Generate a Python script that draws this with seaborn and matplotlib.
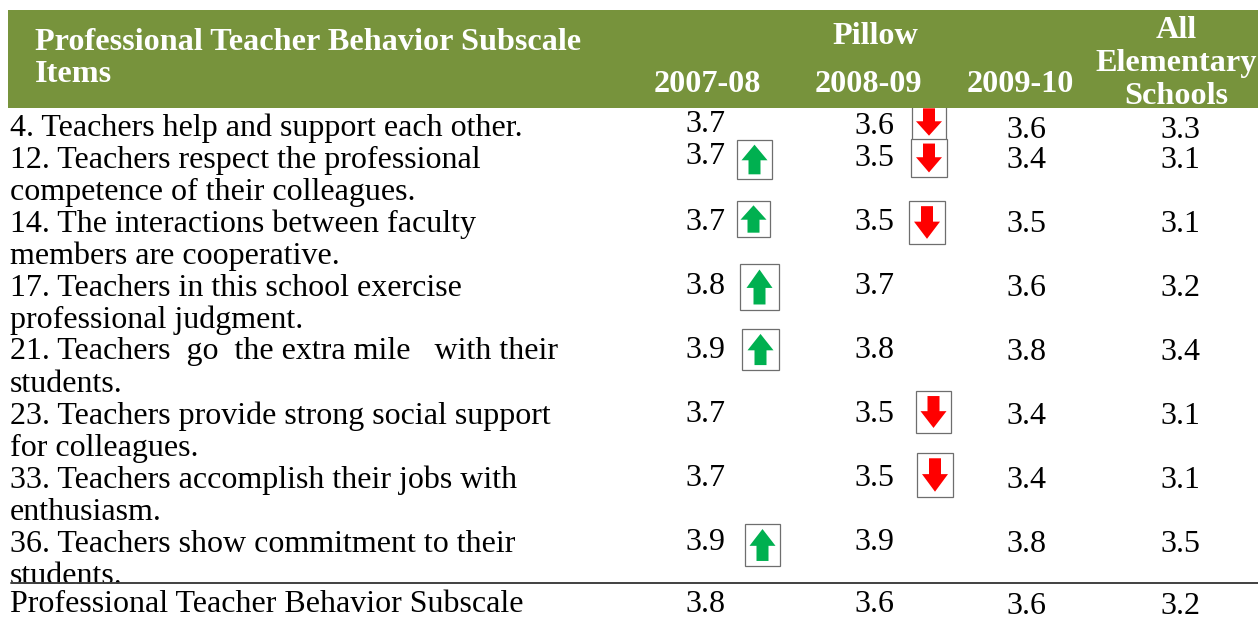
import matplotlib.pyplot as plt
import seaborn as sns
from matplotlib.patches import Rectangle

# table content
header_title = ["Professional Teacher Behavior Subscale", "Items"]
years = ["2007-08", "2008-09", "2009-10"]
all_schools = ["All", "Elementary", "Schools"]

items = [
    ["4. Teachers help and support each other."],
    ["12. Teachers respect the professional", "competence of their colleagues."],
    ["14. The interactions between faculty", "members are cooperative."],
    ["17. Teachers in this school exercise", "professional judgment."],
    ["21. Teachers  go  the extra mile   with their", "students."],
    ["23. Teachers provide strong social support", "for colleagues."],
    ["33. Teachers accomplish their jobs with", "enthusiasm."],
    ["36. Teachers show commitment to their", "students."],
    ["Professional Teacher Behavior Subscale"],
]

pillow_0708 = ["3.7", "3.7", "3.7", "3.8", "3.9", "3.7", "3.7", "3.9", "3.8"]
pillow_0809 = ["3.6", "3.5", "3.5", "3.7", "3.8", "3.5", "3.5", "3.9", "3.6"]
pillow_0910 = ["3.6", "3.4", "3.5", "3.6", "3.8", "3.4", "3.4", "3.8", "3.6"]
all_elementary = ["3.3", "3.1", "3.1", "3.2", "3.4", "3.1", "3.1", "3.5", "3.2"]
columns = [pillow_0708, pillow_0809, pillow_0910, all_elementary]

# layout, in pixels of the picture
col_x = [705, 874, 1026, 1180]
row_y = [
    [125, 157, 222, 286, 350, 414, 478, 542, 605],
    [127, 159, 223, 287, 350, 414, 478, 542, 605],
    [130, 161, 225, 289, 353, 417, 481, 545, 606],
    [130, 161, 225, 289, 353, 417, 481, 545, 606],
]
line_y = [128, 160, 192, 224, 256, 288, 320, 352, 384, 416, 448, 480, 512, 544, 576, 605]

# arrow boxes: left, top, right, bottom, direction
arrow_boxes = [
    (737, 140, 772, 179, "up"),
    (912, 104, 946, 140, "down"),
    (911, 139, 947, 177, "down"),
    (737, 201, 770, 237, "up"),
    (909, 201, 945, 244, "down"),
    (740, 264, 779, 310, "up"),
    (742, 329, 779, 370, "up"),
    (916, 391, 951, 433, "down"),
    (917, 453, 953, 497, "down"),
    (745, 524, 780, 566, "up"),
]

sns.set_theme(style="white")
plt.rcParams["font.family"] = ["Liberation Serif", "DejaVu Serif"]

fig = plt.figure(figsize=(12.58, 6.19), dpi=100)
ax = fig.add_axes([0, 0, 1, 1])
ax.set_xlim(0, 1258)
ax.set_ylim(619, 0)
ax.axis("off")

FS = 23.05
HEAD = 23.2
GREEN = "#77933C"

for left, top, right, bottom, way in arrow_boxes:
    ax.add_patch(Rectangle((left, top), right - left, bottom - top, fc="white", ec="#6e6e6e", lw=0.9, zorder=2))
    cx = (left + right) / 2
    h = bottom - top
    color = "#00B050" if way == "up" else "#FF0000"
    if way == "up":
        ax.arrow(cx, bottom - 0.12 * h, 0, -0.76 * h, width=12, head_width=26, head_length=0.4 * h,
                 length_includes_head=True, fc=color, ec=color, lw=0, zorder=3)
    else:
        ax.arrow(cx, top + 0.12 * h, 0, 0.76 * h, width=12, head_width=26, head_length=0.4 * h,
                 length_includes_head=True, fc=color, ec=color, lw=0, zorder=3)

ax.add_patch(Rectangle((8, 10), 1250, 98, fc=GREEN, ec="none", zorder=4))

ax.text(35, 42, header_title[0], color="white", fontsize=HEAD, fontweight="bold", ha="left", va="center", zorder=5)
ax.text(35, 74, header_title[1], color="white", fontsize=HEAD, fontweight="bold", ha="left", va="center", zorder=5)
ax.text(875, 36, "Pillow", color="white", fontsize=HEAD, fontweight="bold", ha="center", va="center", zorder=5)
for x, y, label in zip([707, 868, 1020], [84, 84, 84], years):
    ax.text(x, y, label, color="white", fontsize=HEAD, fontweight="bold", ha="center", va="center", zorder=5)
for y, label in zip([31, 63, 96], all_schools):
    ax.text(1176, y, label, color="white", fontsize=HEAD, fontweight="bold", ha="center", va="center", zorder=5)

lines = [line for item in items for line in item]
for y, line in zip(line_y, lines):
    ax.text(10, y, line, color="black", fontsize=FS, ha="left", va="center", zorder=5)

for x, ys, values in zip(col_x, row_y, columns):
    for y, value in zip(ys, values):
        ax.text(x, y, value, color="black", fontsize=FS, ha="center", va="center", zorder=5)

ax.plot([11, 1258], [583, 583], color="#404040", lw=1.4, zorder=6)

fig.savefig("out.png", dpi=100)
